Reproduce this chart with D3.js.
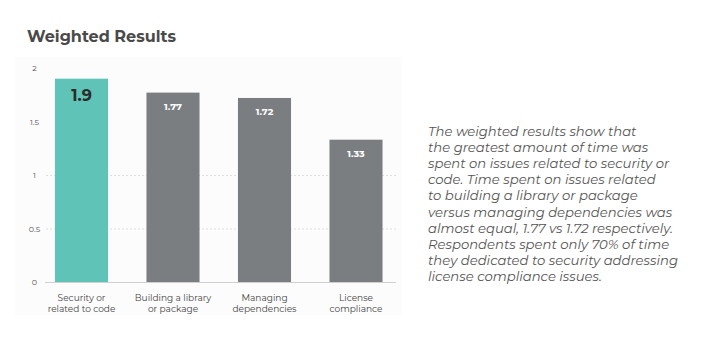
<!DOCTYPE html>
<html><head><meta charset="utf-8">
<script src="https://cdn.jsdelivr.net/npm/d3@7"></script>
<style>body{margin:0;background:#fff;}svg{display:block;}</style>
</head><body>
<svg id="c" width="716" height="339"></svg>
<script>
const categories = [["Security or","related to code"],["Building a library","or package"],["Managing","dependencies"],["License","compliance"]];
const values = [1.9, 1.77, 1.72, 1.33];
const labels = ["1.9","1.77","1.72","1.33"];
const yTicks = [0, 0.5, 1, 1.5, 2];
const gridTicks = [0.5, 1];
const title = "Weighted Results";
const paragraph = ["The weighted results show that","the greatest amount of time was","spent on issues related to security or","code. Time spent on issues related","to building a library or package","versus managing dependencies was","almost equal, 1.77 vs 1.72 respectively.","Respondents spent only 70% of time","they dedicated to security addressing","license compliance issues."];

const svg = d3.select("#c");
const font = "Montserrat, 'Open Sans', sans-serif";

svg.append("rect").attr("x",15).attr("y",57).attr("width",387).attr("height",258).attr("fill","#fcfcfc");

svg.append("text").attr("x",27).attr("y",42).text(title)
  .attr("font-family",font).attr("font-weight",700).attr("font-size",16).attr("fill","#4a4a4a");

const x = d3.scaleBand().domain(d3.range(categories.length)).range([35.75,401.75]).paddingInner(0.42).paddingOuter(0.21);
const y = d3.scaleLinear().domain([0,2]).range([282,68]);

// grid
svg.append("g").selectAll("line").data(gridTicks).join("line")
  .attr("x1",46).attr("x2",398).attr("y1",d=>y(d)+0.5).attr("y2",d=>y(d)+0.5)
  .attr("stroke","#dedede").attr("stroke-width",1).attr("stroke-dasharray","2,2");

// baseline
svg.append("line").attr("x1",45).attr("x2",396).attr("y1",y(0)+0.5).attr("y2",y(0)+0.5).attr("stroke","#cfcfcf");

// y tick labels
const yAxis = d3.axisLeft(y).tickValues(yTicks).tickSize(0).tickPadding(0).tickFormat(d3.format("~g"));
const ga = svg.append("g").attr("transform","translate(34.5,0)").call(yAxis);
ga.select(".domain").remove();
ga.selectAll("text").attr("text-anchor","middle").attr("font-family",font).attr("font-size",8).attr("fill","#555");

// bars
svg.append("g").selectAll("rect").data(values).join("rect")
  .attr("x",(d,i)=>x(i)).attr("width",x.bandwidth())
  .attr("y",d=>y(d)).attr("height",d=>y(0)-y(d))
  .attr("fill",(d,i)=>i===0?"#5fc3b8":"#7b7e81");

// value labels
svg.append("g").selectAll("text").data(values).join("text")
  .attr("x",(d,i)=>x(i)+x.bandwidth()/2)
  .attr("y",(d,i)=>y(d)+(i===0?22:17))
  .attr("text-anchor","middle").attr("font-family",font).attr("font-weight",700)
  .attr("font-size",(d,i)=>i===0?16:9.5)
  .attr("fill",(d,i)=>i===0?"#2b2b2b":"#ffffff")
  .text((d,i)=>labels[i]);

// x labels
const xl = svg.append("g").selectAll("text").data(categories).join("text")
  .attr("x",(d,i)=>x(i)+x.bandwidth()/2).attr("y",301)
  .attr("text-anchor","middle").attr("font-family",font).attr("font-size",9).attr("fill","#444");
xl.selectAll("tspan").data(d=>d).join("tspan")
  .attr("x",function(){return this.parentNode.getAttribute("x");})
  .attr("dy",(d,j)=>j===0?0:11).text(d=>d);

// paragraph
svg.append("g").selectAll("text").data(paragraph).join("text")
  .attr("x",428).attr("y",(d,i)=>136+i*16.1)
  .attr("font-family",font).attr("font-style","italic").attr("font-size",13.2).attr("fill","#555")
  .text(d=>d);
</script>
</body></html>
